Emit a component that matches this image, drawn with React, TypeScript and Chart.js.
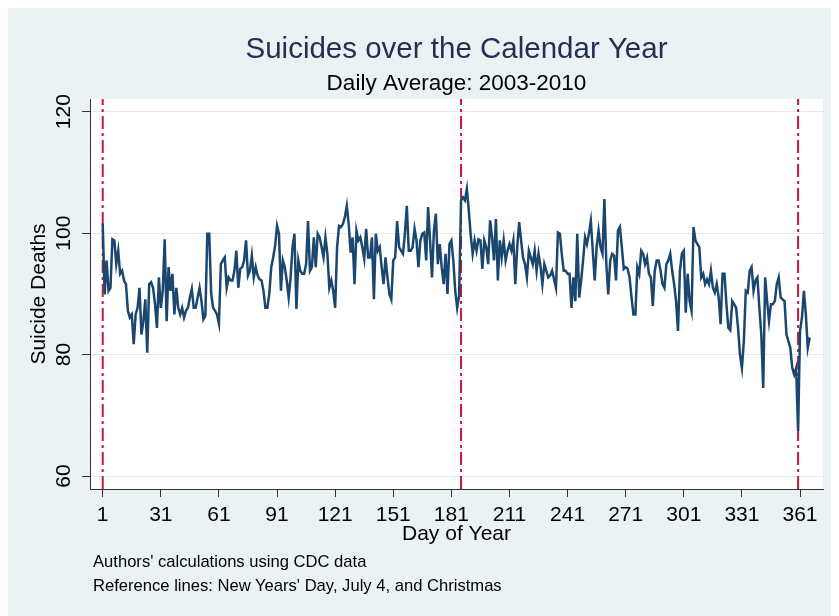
import React, { useEffect, useRef } from "react";
import { Chart, registerables } from "chart.js";

Chart.register(...registerables);

// Daily average suicide deaths, day 1 .. day 366
const JAN_FEB_A: number[] = [
  101.6, 89.9, 95.5, 90.5, 91, 99, 98.8, 94.9, 97.1, 93.3,
  93.8, 92.2, 91.6, 87.2, 86.1, 86.6, 81.7, 86.6, 87.7, 91,
  83.3, 85.5, 89.1, 80.3, 91.6, 91.9, 91, 88.3, 84.4, 92.7,
  87.7, 90.5, 99, 85.5, 94.4, 90.5, 93.3, 86.6, 91, 87.7,
  86.6, 87.7, 86.1, 87.2, 87.7, 89.4,
];
const FEB_MAR_B: number[] = [
  90.8, 87.7, 87.7, 89.4, 91, 88.8, 85.8, 86.4, 99.9, 99.9,
  90, 87.7, 87.2, 86.6, 85.1, 94.9, 95.5, 96, 91, 92.7,
  92.2, 92.2, 93.8, 97.1, 91, 94.1, 94.4, 95.5, 98.8, 93,
  93.8, 96.3, 92.7, 94.4, 93, 92.4, 92.2, 90.5, 87.7, 87.7,
  90, 94.4, 96, 97.9, 101.2, 99.9,
];
const APR_MAY_C: number[] = [
  90.5, 95.5, 94.4, 92.2, 89.4, 92.7, 97.7, 99.9, 87.5, 95.5,
  93.8, 93.3, 93.3, 94.9, 102, 93.8, 94.4, 99.3, 94.4, 99.9,
  99.3, 97.7, 96, 99.3, 96.6, 91, 92.2, 90.5, 87.7, 97.7,
  101.2, 101, 101.5, 102.6, 104.5, 101.5, 96.8, 99.3, 91.6, 100.4,
  98.8, 99.3, 97.7, 95.8, 100.7, 96, 96,
];
const MAY_JUL_D: number[] = [
  99.3, 89.1, 99.9, 97.1, 97.7, 94.4, 91.6, 96, 92.7, 90,
  89.1, 95.5, 96, 102, 97.7, 97.1, 96.6, 99.9, 104.5, 97.1,
  97.1, 97.7, 100.7, 98.8, 94.4, 98.8, 99.9, 100.1, 95.5, 104.3,
  98.8, 92.7, 100.4, 103.2, 94.9, 98.2, 94.4, 91.6, 96.6, 90,
  98.2, 98.8, 95.5, 90.5, 87.7, 89.7,
];
const JUL_AUG_E: number[] = [
  105.4, 105.9, 105.4, 107.3, 103.7, 99.6, 96.6, 98.8, 97.1, 99,
  98.8, 94.1, 98.8, 97.7, 94.9, 102.1, 99.3, 95.5, 102.3, 92.2,
  98.8, 96, 98.8, 95.5, 97.1, 98.2, 97.1, 98.8, 91.6, 97.7,
  101.8, 98.8, 96, 94.9, 92.7, 97.1, 96, 94.9, 97.1, 93.8,
  96.6, 94.6, 91.6, 94.9, 93.8, 92.7, 93,
];
const AUG_OCT_F: number[] = [
  93.8, 92.4, 91, 100.1, 99.9, 96.6, 93.8, 93.8, 93.3, 93.3,
  87.7, 92.7, 88.8, 99.9, 89.4, 92.2, 95.5, 99.3, 98.2, 99.9,
  102, 97.1, 92.2, 97.7, 100.4, 97.7, 96.6, 105.6, 94.9, 89.9,
  95.5, 96.6, 96.3, 92.2, 100.4, 101, 97.7, 94.1, 94.4, 94.1,
  92.7, 89.4, 86.6, 86.6, 94.4, 93.3,
];
const OCT_NOV_G: number[] = [
  97.1, 96.6, 94.9, 96, 93.3, 92.7, 88, 93.8, 95.5, 95.5,
  93.8, 91.6, 91, 94.9, 95.5, 96.6, 93.8, 91.6, 88.8, 83.9,
  93.8, 96.6, 97.1, 86.9, 93.3, 88.8, 87.2, 101, 98.8, 98.2,
  97.7, 92.7, 93.3, 91.6, 92.4, 91.6, 93.8, 91, 90.2, 91.6,
  89.4, 85, 93.3, 93.3, 88.3, 84.4, 84,
];
const NOV_DEC_H: number[] = [
  88.8, 88.3, 87.7, 84.4, 80, 77.8, 82.2, 90.5, 90.2, 93.8,
  94.4, 90.5, 92.2, 92.7, 87.7, 83.3, 74.5, 92.7, 88.8, 85.5,
  88.3, 88.3, 88.8, 91.6, 92.7, 89.4, 89.1, 88.8, 83.3, 82.2,
  81.1, 77.8, 76.7, 77.8, 67.4, 83.9, 86.1, 90.5, 86.6, 81.1,
  82.8,
];

const X_TICKS: number[] = [1, 31, 61, 91, 121, 151, 181, 211, 241, 271, 301, 331, 361];
const Y_TICKS: number[] = [60, 80, 100, 120];
const REFERENCE_DAYS: number[] = [1, 186, 360];

const TITLE = "Suicides over the Calendar Year";
const SUBTITLE = "Daily Average: 2003-2010";
const X_TITLE = "Day of Year";
const Y_TITLE = "Suicide Deaths";
const NOTES: string[] = [
  "Authors' calculations using CDC data",
  "Reference lines: New Years' Day, July 4, and Christmas",
];

const Y_MIN = 57.86;
const Y_MAX = 122.09;
const X_MIN = -5.56;
const X_MAX = 372.86;

const FONT = '"Liberation Sans", Arial, Helvetica, sans-serif';
const W = 831;
const H = 608;

const backgroundPlugin = {
  id: "stataBackground",
  beforeDraw(chart: any) {
    const { ctx, chartArea } = chart;
    ctx.save();
    ctx.fillStyle = "#eaf2f3";
    ctx.fillRect(0, 0, chart.width, chart.height);
    ctx.fillStyle = "#ffffff";
    ctx.fillRect(
      chartArea.left,
      chartArea.top,
      chartArea.right - chartArea.left,
      chartArea.bottom - chartArea.top
    );
    ctx.restore();
  },
};

export default function App() {
  const canvasRef = useRef<HTMLCanvasElement | null>(null);

  useEffect(() => {
    const canvas = canvasRef.current;
    if (!canvas) return;

    const daily = [
      ...JAN_FEB_A,
      ...FEB_MAR_B,
      ...APR_MAY_C,
      ...MAY_JUL_D,
      ...JUL_AUG_E,
      ...AUG_OCT_F,
      ...OCT_NOV_G,
      ...NOV_DEC_H,
    ];

    const refSets = REFERENCE_DAYS.map((d) => ({
      type: "line" as const,
      data: [
        { x: d, y: Y_MIN },
        { x: d, y: Y_MAX },
      ],
      borderColor: "#c8173e",
      borderWidth: 2,
      borderDash: [13, 4, 3, 4],
      pointRadius: 0,
      order: 2,
    }));

    const chart = new Chart(canvas, {
      type: "line",
      data: {
        datasets: [
          {
            data: daily.map((v, i) => ({ x: i + 1, y: v })),
            borderColor: "#1a476f",
            borderWidth: 2.5,
            pointRadius: 0,
            tension: 0,
            order: 1,
          },
          ...refSets,
        ] as any,
      },
      plugins: [backgroundPlugin],
      options: {
        responsive: false,
        maintainAspectRatio: false,
        animation: false,
        devicePixelRatio: 1,
        events: [],
        layout: { padding: { left: 0, right: 16, top: 0, bottom: 0 } },
        plugins: {
          legend: { display: false },
          tooltip: { enabled: false },
          title: {
            display: true,
            fullSize: false,
            text: TITLE,
            color: "#232f55",
            font: { family: FONT, size: 29.5, weight: "normal" },
            padding: { top: 24.3, bottom: 0 },
          },
          subtitle: {
            display: true,
            fullSize: false,
            text: SUBTITLE,
            color: "#000000",
            font: { family: FONT, size: 22.5, weight: "normal" },
            padding: { top: 2.8, bottom: 1.5 },
          },
        },
        scales: {
          x: {
            type: "linear",
            min: X_MIN,
            max: X_MAX,
            afterBuildTicks: (s: any) => {
              s.ticks = X_TICKS.map((v) => ({ value: v }));
            },
            afterFit: (s: any) => {
              s.height = 127;
            },
            ticks: {
              autoSkip: false,
              minRotation: 0,
              maxRotation: 0,
              padding: 6,
              color: "#000000",
              font: { family: FONT, size: 21 },
              callback: (v: any) => String(v),
            },
            grid: {
              drawOnChartArea: false,
              drawTicks: true,
              tickLength: 8,
              tickColor: "#333333",
            },
            border: { display: true, color: "#333333", width: 1 },
            title: {
              display: true,
              text: X_TITLE,
              color: "#000000",
              font: { family: FONT, size: 21 },
              padding: { top: 0, bottom: 69 },
            },
          },
          y: {
            type: "linear",
            min: Y_MIN,
            max: Y_MAX,
            afterBuildTicks: (s: any) => {
              s.ticks = Y_TICKS.map((v) => ({ value: v }));
            },
            afterFit: (s: any) => {
              s.width = 82;
            },
            ticks: {
              minRotation: 90,
              maxRotation: 90,
              crossAlign: "center",
              padding: 0,
              color: "#000000",
              font: { family: FONT, size: 21 },
              callback: (v: any) => String(v),
            },
            grid: {
              color: "#e2ebec",
              lineWidth: 1,
              tickColor: "#333333",
              tickLength: 8,
            },
            border: { display: true, color: "#333333", width: 1 },
            title: {
              display: true,
              text: Y_TITLE,
              color: "#000000",
              font: { family: FONT, size: 21 },
              padding: { top: 19, bottom: 0 },
            },
          },
        },
      } as any,
    });

    return () => chart.destroy();
  }, []);

  return (
    <div style={{ position: "relative", width: W, height: H }}>
      <canvas
        ref={canvasRef}
        width={W}
        height={H}
        style={{ display: "block", width: W, height: H }}
      />
      {NOTES.map((n, i) => (
        <div
          key={i}
          style={{
            position: "absolute",
            left: 85,
            top: 546 + i * 24,
            fontFamily: FONT,
            fontSize: 16.6,
            lineHeight: "16px",
            color: "#000000",
            whiteSpace: "nowrap",
          }}
        >
          {n}
        </div>
      ))}
    </div>
  );
}
